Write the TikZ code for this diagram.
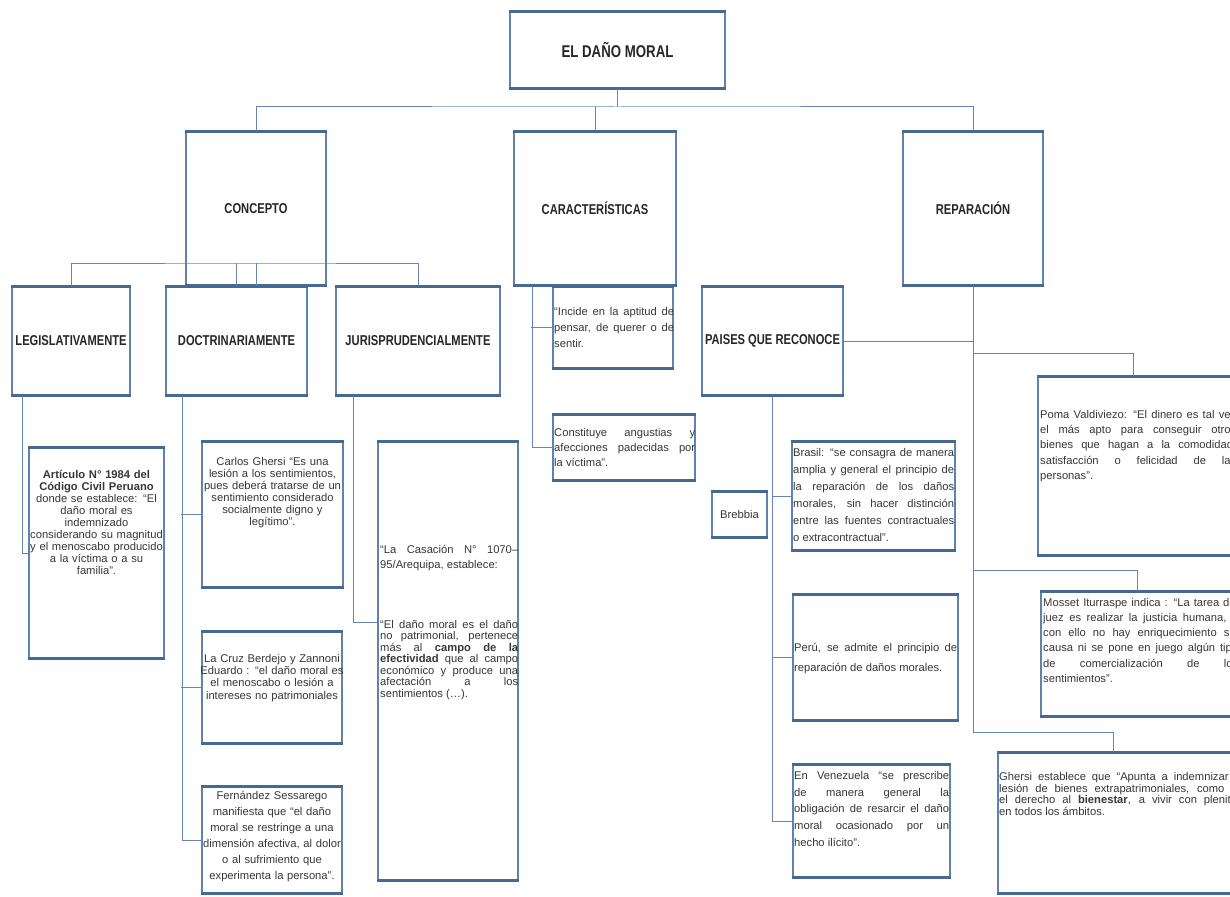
\documentclass[tikz,border=0pt]{standalone}
\usepackage{fontspec}
\setmainfont{Liberation Sans}
\newfontfamily\ttlfont[FakeStretch=0.78]{Liberation Sans}
\definecolor{bline}{RGB}{96,130,174}
\definecolor{bedge}{RGB}{72,104,148}
\definecolor{cline}{RGB}{100,134,180}
\definecolor{txt}{RGB}{55,55,55}
\tikzset{
  bx/.style={draw=bline, line width=1.1pt, fill=white, inner sep=0pt, rectangle},
  boxedge/.style={draw=bedge, line width=2.2pt},
  conn/.style={draw=cline, line width=1pt},
  ttl/.style={font=\ttlfont\bfseries\fontsize{14.3}{16}\selectfont, text=black!85},
  bt/.style={font=\fontsize{11.2}{#1}\selectfont, text=txt, inner sep=0pt},
  jt/.style={bt=#1, align=justify, anchor=north west},
  ct/.style={bt=#1, align=center, anchor=north},
}
\newcommand\edges[1]{\draw[boxedge] (#1.north west) -- (#1.north east) (#1.south west) -- (#1.south east);}
\begin{document}
\begin{tikzpicture}[x=1pt,y=-1pt]
\useasboundingbox (0,0) rectangle (1230,896);
\fill[white] (0,0) rectangle (1230,896);
\clip (0,0) rectangle (1230,896);

% ---- title boxes
\node[bx, ttl, minimum width=215, minimum height=76, font=\ttlfont\bfseries\fontsize{17}{19}\selectfont] (root) at (617.5,50) {EL DAÑO MORAL};
\node[bx, ttl, minimum width=140, minimum height=153] (concepto) at (256,208.5) {CONCEPTO};
\node[bx, ttl, minimum width=162, minimum height=153] (caract) at (595,208.5) {CARACTERÍSTICAS};
\node[bx, ttl, minimum width=140, minimum height=153] (repar) at (973,208.5) {REPARACIÓN};
\node[bx, ttl, minimum width=118, minimum height=108] (legis) at (71,341) {LEGISLATIVAMENTE};
\node[bx, ttl, minimum width=141, minimum height=108] (doctr) at (236.5,341) {DOCTRINARIAMENTE};
\node[bx, ttl, minimum width=164, minimum height=108] (juris) at (418,341) {JURISPRUDENCIALMENTE};
\node[bx, ttl, minimum width=141, minimum height=108] (paises) at (772.5,341) {PAISES QUE RECONOCE};

% ---- content boxes
\node[bx, minimum width=135, minimum height=210] (art) at (96.5,553) {};
\node[bx, minimum width=141, minimum height=145] (carlos) at (272.5,514.5) {};
\node[bx, minimum width=140, minimum height=111] (lacruz) at (272,687.5) {};
\node[bx, minimum width=140, minimum height=106] (fern) at (272,840) {};
\node[bx, minimum width=140, minimum height=438] (casac) at (448,661) {};
\node[bx, minimum width=120, minimum height=81] (incide) at (613,327.5) {};
\node[bx, minimum width=142, minimum height=65] (constit) at (624,447.5) {};
\node[bx, bt=12, minimum width=55, minimum height=45] (brebbia) at (739.5,514.5) {Brebbia};
\node[bx, minimum width=163, minimum height=108] (brasil) at (873.5,496) {};
\node[bx, minimum width=165, minimum height=125] (peru) at (875.5,657.5) {};
\node[bx, minimum width=157, minimum height=112] (venez) at (871.5,821) {};
\node[bx, minimum width=207, minimum height=178] (poma) at (1141.5,466) {};
\node[bx, minimum width=204, minimum height=124] (mosset) at (1143,654) {};
\node[bx, minimum width=247, minimum height=140] (ghersi) at (1121.5,823) {};

\foreach \b in {root,concepto,caract,repar,legis,doctr,juris,paises,art,carlos,lacruz,fern,casac,incide,constit,brebbia,brasil,peru,venez,poma,mosset,ghersi}{\edges{\b}}

% ---- connectors
\coordinate (j0) at (617.5,107);
\draw[conn] (root.south) -- (j0);
\draw[conn] (concepto.north) |- (j0) -| (repar.north);
\draw[conn] (caract.north) -- (caract.north |- j0);

\coordinate (j1) at (256,263);
\draw[conn] (concepto.south) -- (j1);
\draw[conn] (legis.north) |- (j1) -| (juris.north);
\draw[conn] (doctr.north) -- (doctr.north |- j1);

\draw[conn] ([xshift=-49pt]legis.south) |- (art.west);
\draw[conn] ([xshift=-54.5pt]doctr.south) |- (fern.west);
\draw[conn] (carlos.west) -- ++(-20pt,0);
\draw[conn] (lacruz.west) -- ++(-20pt,0);
\draw[conn] ([xshift=-65pt]juris.south) |- ([yshift=39pt]casac.west);

\draw[conn] ([xshift=-63pt]caract.south) |- (constit.west);
\draw[conn] (incide.west) -- ++(-21pt,0);

\draw[conn] (repar.south) -- ++(0,-447pt) -| ([xshift=-8.5pt]ghersi.north);
\draw[conn] ([yshift=-68pt]repar.south) -| ([xshift=-8.5pt]poma.north);
\draw[conn] ([yshift=-285pt]repar.south) -| ([xshift=-6pt]mosset.north);
\draw[conn] (paises.east) -- (paises.east -| repar.south);

\draw[conn] (paises.south) |- (venez.west);
\draw[conn] (brasil.west) -- (brasil.west -| paises.south);
\draw[conn] (peru.west) -- (peru.west -| paises.south);

% ---- texts
\node[ct=12, text width=142] (art-t) at (96.5,470) {\textbf{Artículo N° 1984 del}\\\textbf{Código Civil Peruano}\\donde se establece: “El\\daño moral es\\indemnizado\\considerando su magnitud\\y el menoscabo producido\\a la víctima o a su\\familia”.};
\node[ct=12, text width=146] (carlos-t) at (272.5,457) {Carlos Ghersi “Es una\\lesión a los sentimientos,\\pues deberá tratarse de un\\sentimiento considerado\\socialmente digno y\\legítimo”.};
\node[ct=12.3, text width=146] (lacruz-t) at (272,654) {La Cruz Berdejo y Zannoni\\Eduardo : “el daño moral es\\el menoscabo o lesión a\\intereses no patrimoniales};
\node[ct=16, text width=146] (fern-t) at (272,791) {Fernández Sessarego\\manifiesta que “el daño\\moral se restringe a una\\dimensión afectiva, al dolor\\o al sufrimiento que\\experimenta la persona”.};
\node[jt=15.5, text width=138] (cas-t1) at (380,545) {“La Casación N° 1070–\linebreak 95/Arequipa, establece:};
\node[jt=11.5, text width=138] (cas-t2) at (380,620) {“El daño moral es el daño\linebreak no patrimonial, pertenece\linebreak más al \textbf{campo de la}\linebreak \textbf{efectividad} que al campo\linebreak económico y produce una\linebreak afectación a los\linebreak sentimientos (…).};
\node[jt=16, text width=120] (inc-t) at (554,307) {“Incide en la aptitud de\linebreak pensar, de querer o de\linebreak sentir.};
\node[jt=15, text width=141] (con-t) at (554,428) {Constituye angustias y\linebreak afecciones padecidas por\linebreak la víctima”.};
\node[jt=17, text width=161] (bra-t) at (793,448) {Brasil: “se consagra de manera\linebreak amplia y general el principio de\linebreak la reparación de los daños\linebreak morales, sin hacer distinción\linebreak entre las fuentes contractuales\linebreak o extracontractual”.};
\node[jt=20, text width=163] (per-t) at (794,643) {Perú, se admite el principio de\linebreak reparación de daños morales.};
\node[jt=16.8, text width=155] (ven-t) at (794,771) {En Venezuela “se prescribe\linebreak de manera general la\linebreak obligación de resarcir el daño\linebreak moral ocasionado por un\linebreak hecho ilícito”.};
\node[jt=15.3, text width=196] (pom-t) at (1040,410) {Poma Valdiviezo: “El dinero es tal vez\linebreak el más apto para conseguir otros\linebreak bienes que hagan a la comodidad,\linebreak satisfacción o felicidad de las\linebreak personas”.};
\node[jt=15.2, text width=195] (mos-t) at (1043,598) {Mosset Iturraspe indica : “La tarea del\linebreak juez es realizar la justicia humana, y\linebreak con ello no hay enriquecimiento sin\linebreak causa ni se pone en juego algún tipo\linebreak de comercialización de los\linebreak sentimientos”.};
\node[jt=11.8, text width=244] (ghe-t) at (999,772) {Ghersi establece que “Apunta a indemnizar la\linebreak lesión de bienes extrapatrimoniales, como es\linebreak el derecho al \textbf{bienestar}, a vivir con plenitud\linebreak en todos los ámbitos.};
\end{tikzpicture}
\end{document}
